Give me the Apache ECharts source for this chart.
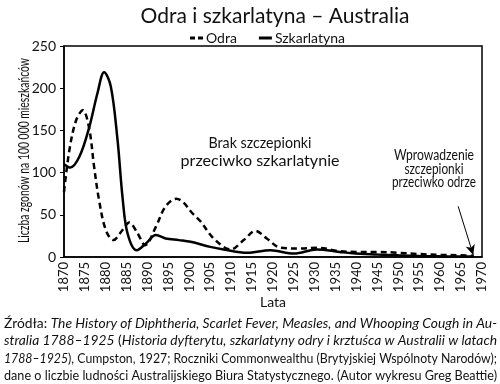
<!DOCTYPE html>
<html><head><meta charset="utf-8">
<script src="https://cdn.jsdelivr.net/npm/echarts@6/dist/echarts.min.js"></script>
<style>html,body{margin:0;padding:0;background:#fff}#c{width:500px;height:384px}</style>
</head><body><div id="c"></div>
<script>
const title = 'Odra i szkarlatyna – Australia';
const legendNames = ['Odra', 'Szkarlatyna'];
const xLabel = 'Lata';
const yLabel = 'Liczba zgonów na 100 000 mieszkańców';

const odraYears = [1870, 1871.3, 1872.9, 1874.5, 1876, 1877.2, 1878.4, 1880, 1881.8, 1884, 1885.6, 1887.6, 1889.4, 1892, 1894.3, 1896.9, 1898.5, 1900.5, 1902.7, 1905.8, 1909.9, 1913, 1915.8, 1918.5, 1921.8, 1926.6, 1930.5, 1935.9, 1940, 1945, 1950, 1955, 1960, 1965, 1968];
const odraValues = [77, 127, 162, 174, 153, 107, 67, 32, 20, 32, 41, 28, 14, 36, 60, 69, 65, 53, 42, 22, 9, 20, 31, 22, 11, 10, 11, 7, 6, 6, 5, 3.5, 2.5, 2, 1.5];

const szkYears = [1870, 1871.5, 1873.7, 1876, 1878, 1879.6, 1881.2, 1882.8, 1884, 1885.2, 1887.4, 1889.6, 1892, 1894.3, 1897.5, 1900.3, 1905, 1908.2, 1913.8, 1919.4, 1925, 1930.5, 1935.9, 1939, 1945, 1950, 1955, 1960, 1968];
const szkValues = [110, 106, 119, 153, 194, 219, 202, 139, 71, 28, 8, 16, 26, 22, 20, 18, 12, 9, 5, 8, 4, 9, 6, 4.4, 3, 2, 1.2, 0.8, 0.5];

const noteLeft = ['Brak szczepionki', 'przeciwko szkarlatynie'];
const noteRight = ['Wprowadzenie', 'szczepionki', 'przeciwko odrze'];
const arrowFrom = [1964.3, 60];
const arrowTo = [1967.9, 2.5];

// footnote lines: segments [italic?, text]
const footLines = [
  [[0, 'Źródła: '], [1, 'The History of Diphtheria, Scarlet Fever, Measles, and Whooping Cough in Au-']],
  [[1, 'stralia 1788–1925'], [0, ' ('], [1, 'Historia dyfterytu, szkarlatyny odry i krztuśca w Australii w latach']],
  [[1, '1788–1925'], [0, '), Cumpston, 1927; Roczniki Commonwealthu (Brytyjskiej Wspólnoty Narodów);']],
  [[0, 'dane o liczbie ludności Australijskiego Biura Statystycznego. (Autor wykresu Greg Beattie)']]
];

const FB = 'Lato, "Open Sans", sans-serif';
const ctx = document.createElement('canvas').getContext('2d');
function measure(font, text) { ctx.font = font; return ctx.measureText(text).width; }

const graphics = [];
// condensed text helper: scale horizontally to a target width
function cText(lines, font, cx, cy, lh, widths) {
  lines.forEach((t, i) => {
    const w = measure(font, t);
    graphics.push({type: 'text', x: cx, y: cy + i * lh, scaleX: widths[i] / w, silent: true,
      style: {text: t, font: font, fill: '#111', textAlign: 'center', textVerticalAlign: 'middle'}});
  });
}
cText(noteLeft, '15px ' + FB, 260, 143, 18, [103, 159]);
cText(noteRight, '15.5px ' + FB, 434, 155, 13.5, [80, 59, 84]);
// y axis label (rotated, condensed)
{
  const f = '15px ' + FB;
  const w = measure(f, yLabel);
  graphics.push({type: 'text', x: 24, y: 150.5, rotation: Math.PI / 2, scaleX: 185 / w, silent: true,
    style: {text: yLabel, font: f, fill: '#111', textAlign: 'center', textVerticalAlign: 'middle'}});
}
// footnote, justified to full width by horizontal scaling
{
  const fn = '14px ' + FB, fi = 'italic 14px ' + FB;
  footLines.forEach((segs, i) => {
    let w = 0, txt = '';
    segs.forEach(([it, s]) => { w += measure(it ? fi : fn, s); txt += '{' + (it ? 'i' : 'n') + '|' + s + '}'; });
    graphics.push({type: 'text', x: 4, y: 323 + i * 17.6, scaleX: 493 / w, silent: true,
      style: {text: txt, textVerticalAlign: 'middle', textAlign: 'left',
        rich: {n: {font: fn, fill: '#111'}, i: {font: fi, fill: '#111'}}}});
  });
}

const chart = echarts.init(document.getElementById('c'), null, {renderer: 'canvas'});
chart.setOption({
  animation: false,
  backgroundColor: '#fff',
  title: {text: title, left: 270, top: 1, textAlign: 'center',
    textStyle: {fontFamily: FB, fontSize: 21, fontWeight: 'normal', color: '#111'}},
  legend: {top: 26, left: 185, itemWidth: 13, itemHeight: 3, itemGap: 22,
    data: [
      {name: legendNames[0], icon: 'path://M0,0h5v3h-5z M8,0h5v3h-5z'},
      {name: legendNames[1], icon: 'path://M0,0h13v3h-13z'}
    ],
    itemStyle: {color: '#000'},
    textStyle: {fontFamily: FB, fontSize: 14, color: '#111', padding: [0, 0, 0, -2]}},
  grid: {left: 64, right: 18, top: 46, bottom: 127, show: true, borderColor: '#000', borderWidth: 1.5},
  xAxis: {type: 'value', min: 1870, max: 1970, interval: 5,
    name: xLabel, nameLocation: 'middle', nameGap: 38, nameMoveOverlap: false,
    nameTextStyle: {fontFamily: FB, fontSize: 14, color: '#111'},
    axisLine: {lineStyle: {color: '#000', width: 1.5}}, axisTick: {show: false}, splitLine: {show: false},
    axisLabel: {rotate: 90, fontFamily: FB, fontSize: 13, color: '#111', margin: 5, formatter: v => String(v)}},
  yAxis: {type: 'value', min: 0, max: 250, interval: 50,
    axisLine: {show: true, lineStyle: {color: '#000', width: 1.5}},
    axisTick: {show: true, length: 4, lineStyle: {color: '#000', width: 1}}, splitLine: {show: false},
    axisLabel: {fontFamily: FB, fontSize: 14, color: '#111', margin: 8}},
  series: [
    {name: legendNames[0], type: 'line', smooth: 0.35, showSymbol: false, symbol: 'none',
     data: odraYears.map((y, i) => [y, odraValues[i]]),
     lineStyle: {color: '#000', width: 2.5, type: [6, 4]}, itemStyle: {color: '#000'},
     markLine: {silent: true, symbol: ['none', 'arrow'], symbolSize: [7, 10], label: {show: false},
       lineStyle: {color: '#000', width: 1, type: 'solid'},
       data: [[{coord: arrowFrom}, {coord: arrowTo}]]}},
    {name: legendNames[1], type: 'line', smooth: 0.35, showSymbol: false, symbol: 'none',
     data: szkYears.map((y, i) => [y, szkValues[i]]),
     lineStyle: {color: '#000', width: 2.5, type: 'solid'}, itemStyle: {color: '#000'}}
  ],
  graphic: graphics
});
</script></body></html>
